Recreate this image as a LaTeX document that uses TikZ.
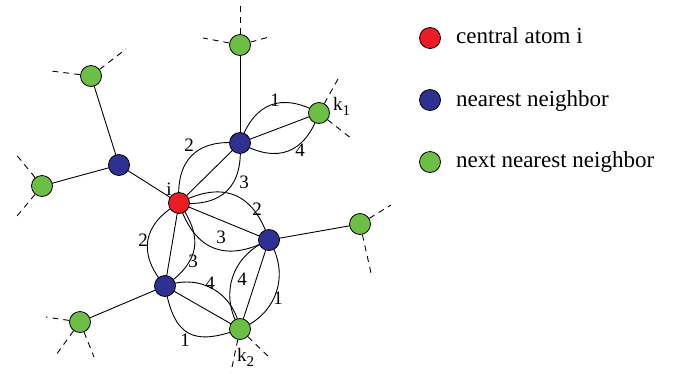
\documentclass[tikz,border=0pt]{standalone}
\usepackage{fontspec}
\setmainfont{Liberation Serif}
\usetikzlibrary{backgrounds}

\definecolor{atomred}{RGB}{237,28,36}
\definecolor{atomblue}{RGB}{46,49,146}
\definecolor{atomgreen}{RGB}{108,190,69}

\tikzset{
  atom/.style={circle, draw=black, line width=0.8pt, minimum size=21pt, inner sep=0pt},
  central/.style={atom, fill=atomred},
  nn/.style={atom, fill=atomblue},
  nnn/.style={atom, fill=atomgreen},
  bond/.style={line width=0.9pt},
  stub/.style={line width=0.9pt, dash pattern=on 6pt off 5pt},
  lens/.style={bond, looseness=1.3},
  num/.style={font=\fontsize{19}{20}\selectfont, inner sep=0pt},
  atomlabel/.style={font=\fontsize{19}{20}\selectfont, inner sep=0pt, anchor=base west},
  legendtext/.style={font=\fontsize{23}{26}\selectfont, anchor=base west, inner sep=0pt},
}

\begin{document}
\begin{tikzpicture}[x=1pt, y=-1pt]
\useasboundingbox (0,0) rectangle (674,373);

% central atom and its nearest neighbours
\node[central] (i)  at (179,203) {};
\node[nn]      (b1) at (240,143) {};
\node[nn]      (b2) at (119,165) {};
\node[nn]      (b3) at (269,240) {};
\node[nn]      (b4) at (165,286) {};

% next nearest neighbours
\node[nnn] (gtop) at (240,45)  {};
\node[nnn] (k1)   at (319,113) {};
\node[nnn] (gul)  at (91,76)   {};
\node[nnn] (gl)   at (42,186)  {};
\node[nnn] (gr)   at (360,224) {};
\node[nnn] (k2)   at (240,329) {};
\node[nnn] (gbl)  at (80,322)  {};

% free ends of the dashed bonds
\coordinate (t1) at (240,3);   \coordinate (t2) at (203,38);  \coordinate (t3) at (269,37);
\coordinate (u1) at (51,71);   \coordinate (u2) at (126,49);
\coordinate (l1) at (15,153);  \coordinate (l2) at (17,216);
\coordinate (q1) at (338,79);  \coordinate (q2) at (352,139);
\coordinate (r1) at (391,205); \coordinate (r2) at (371,273);
\coordinate (s1) at (231,372); \coordinate (s2) at (271,359);
\coordinate (v1) at (46,317);  \coordinate (v2) at (56,355);  \coordinate (v3) at (94,357);

\begin{pgfonlayer}{background}
  % straight bonds
  \draw[bond] (i.center) -- (b1.center);
  \draw[bond] (i.center) -- (b2.center);
  \draw[bond] (i.center) -- (b3.center);
  \draw[bond] (i.center) -- (b4.center);
  \draw[bond] (b1.center) -- (gtop.center);
  \draw[bond] (b1.center) -- (k1.center);
  \draw[bond] (b2.center) -- (gul.center);
  \draw[bond] (b2.center) -- (gl.center);
  \draw[bond] (b3.center) -- (gr.center);
  \draw[bond] (b3.center) -- (k2.center);
  \draw[bond] (b4.center) -- (gbl.center);
  \draw[bond] (b4.center) -- (k2.center);

  % curved paths
  \draw[lens] (i.center) to[bend left=50]  (b1.center);
  \draw[lens] (i.center) to[bend right=50] (b1.center);
  \draw[lens] (i.center) to[bend left=50]  (b3.center);
  \draw[lens] (i.center) to[bend right=50] (b3.center);
  \draw[lens] (i.center) to[bend left=45]  (b4.center);
  \draw[lens] (i.center) to[bend right=50] (b4.center);
  \draw[lens] (b1.center) to[bend left=50]  (k1.center);
  \draw[lens] (b1.center) to[bend right=50] (k1.center);
  \draw[lens, looseness=1.1] (b3.center) to[bend left=50]  (k2.center);
  \draw[lens, looseness=1.1] (b3.center) to[bend right=50] (k2.center);
  \draw[lens, looseness=1.1] (b4.center) to[bend left=50]  (k2.center);
  \draw[lens, looseness=1.5] (b4.center) to[bend right=50] (k2.center);
\end{pgfonlayer}

% dashed bonds leaving the cluster
\draw[stub] (gtop) -- (t1);
\draw[stub] (gtop) -- (t2);
\draw[stub] (gtop) -- (t3);
\draw[stub] (gul) -- (u1);
\draw[stub] (gul) -- (u2);
\draw[stub] (gl) -- (l1);
\draw[stub] (gl) -- (l2);
\draw[stub] (k1) -- (q1);
\draw[stub] (k1) -- (q2);
\draw[stub] (gr) -- (r1);
\draw[stub] (gr) -- (r2);
\draw[stub] (k2) -- (s1);
\draw[stub] (k2) -- (s2);
\draw[stub] (gbl) -- (v1);
\draw[stub] (gbl) -- (v2);
\draw[stub] (gbl) -- (v3);

% path numbers
\node[num] (n1a) at (189,145) {2};
\node[num] (n1b) at (244,182) {3};
\node[num] (n3a) at (257,209) {2};
\node[num] (n3b) at (221,237) {3};
\node[num] (n4a) at (143,240) {2};
\node[num] (n4b) at (193,261) {3};
\node[num] (nka) at (275,100) {1};
\node[num] (nkb) at (300,150) {4};
\node[num] (nla) at (242,279) {4};
\node[num] (nlb) at (278,298) {1};
\node[num] (nma) at (210,283) {4};
\node[num] (nmb) at (185,340) {1};

% atom labels
\node[num, anchor=base] (li) at (169,195) {i};
\node[atomlabel] (lk1) at (333,110) {k\raisebox{-5pt}{\fontsize{15}{15}\selectfont 1}};
\node[atomlabel] (lk2) at (237,361) {k\raisebox{-5pt}{\fontsize{15}{15}\selectfont 2}};

% legend
\node[central] (keyc) at (430,38)  {};
\node[nn]      (keyn) at (430,100) {};
\node[nnn]     (keyg) at (430,162) {};
\node[legendtext] (txc) at (456,43)  {central atom i};
\node[legendtext] (txn) at (456,106) {nearest neighbor};
\node[legendtext] (txg) at (456,167) {next nearest neighbor};
\end{tikzpicture}
\end{document}
